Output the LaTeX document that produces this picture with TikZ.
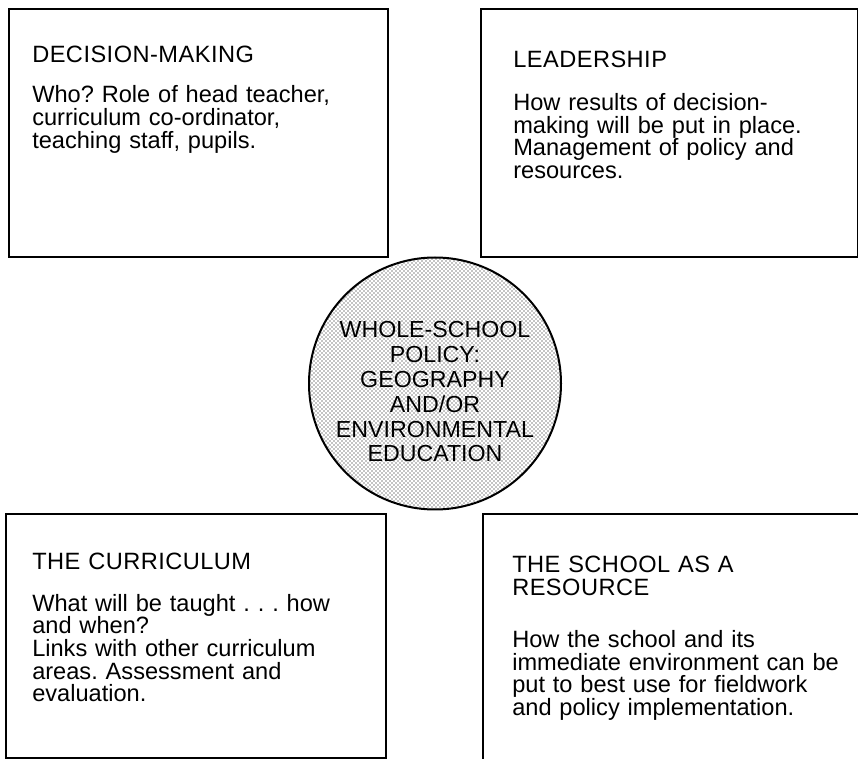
\documentclass[tikz,border=0pt]{standalone}
\usepackage{fontspec}
\setmainfont{Liberation Sans}
\newfontfamily\headfont[LetterSpace=2]{Liberation Sans}
\usetikzlibrary{positioning, patterns}

\begin{document}
\frenchspacing
\begin{tikzpicture}[x=0.75pt, y=-0.75pt,
    panel/.style={draw, line width=1.5pt, rectangle, inner sep=0pt, anchor=north west},
    blurb/.style={anchor=base west, align=left, text width=280pt, inner sep=0pt,
        font=\fontsize{17.7}{17}\selectfont},
    hub/.style={draw, line width=1.5pt, circle, fill=white, pattern=crosshatch dots,
        pattern color=black, minimum size=189pt, inner sep=0pt},
    hubtext/.style={align=center, inner sep=0pt, font=\fontsize{17.4}{18.6}\selectfont}]
    \useasboundingbox (0,0) rectangle (858,759);

    % Four panels
    \node[panel, minimum width=284pt, minimum height=186pt] (decision) at (8,8) {};
    \node[panel, minimum width=283pt, minimum height=186pt] (leader) at (480,8) {};
    \node[panel, minimum width=285pt, minimum height=183pt] (curric) at (5,513) {};
    \node[panel, minimum width=282pt, minimum height=190pt] (resource) at (482,513) {};

    % Panel texts
    \node[blurb] (decisiontext) at (32,63) {{\headfont DECISION-MAKING}\\[13pt]
        Who? Role of head teacher,\\curriculum co-ordinator,\\teaching staff, pupils.};
    \node[blurb] (leadertext) at (513,68) {{\headfont LEADERSHIP}\\[15pt]
        How results of decision-\\making will be put in place.\\Management of policy and\\resources.};
    \node[blurb] (currictext) at (32,570) {{\headfont THE CURRICULUM}\\[14pt]
        What will be taught . . . how\\and when?\\Links with other curriculum\\areas. Assessment and\\evaluation.};
    \node[blurb] (resourcetext) at (512,573) {{\headfont THE SCHOOL AS A}\\{\headfont RESOURCE}\\[22pt]
        How the school and its\\immediate environment can be\\put to best use for fieldwork\\and policy implementation.};

    % Centre
    \node[hub] (policy) at (435,383.5) {};
    \node[hubtext] (policytext) at (435,392) {WHOLE-SCHOOL\\POLICY:\\GEOGRAPHY\\AND/OR\\ENVIRONMENTAL\\EDUCATION};
\end{tikzpicture}
\end{document}
